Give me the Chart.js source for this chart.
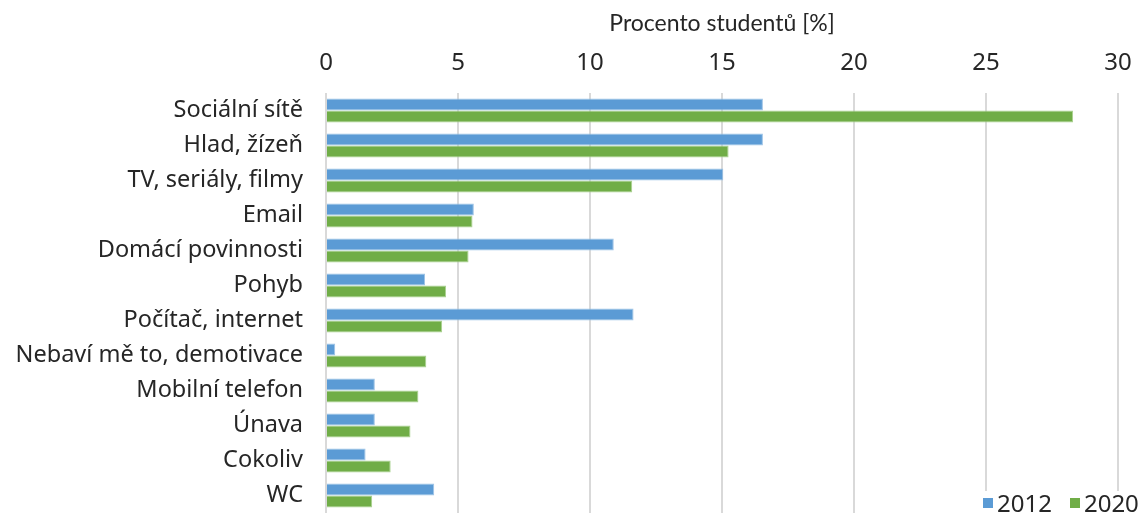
<!DOCTYPE html>
<html>
<head>
<meta charset="utf-8">
<script src="https://cdn.jsdelivr.net/npm/chart.js@4"></script>
<style>
    html, body { margin: 0; padding: 0; background: #fff; }
    #wrap { position: relative; width: 1148px; height: 515px; }
    #legend {
        position: absolute; left: 979px; top: 491px; height: 24px;
        background: #fff; font-family: 'Noto Sans', sans-serif; font-size: 24px;
        color: #262626; display: flex; align-items: center; line-height: 24px;
    }
    #legend span.box { display: inline-block; width: 10px; height: 10px; margin: 0 4px 0 4px; }
    #legend span.txt { margin-right: 14px; }
</style>
</head>
<body>
<div id="wrap">
    <canvas id="chart" width="1148" height="515"></canvas>
    <div id="legend"></div>
</div>
<script>
// categories, top to bottom
const categories = [
    'Sociální sítě', 'Hlad, žízeň', 'TV, seriály, filmy', 'Email',
    'Domácí povinnosti', 'Pohyb', 'Počítač, internet', 'Nebaví mě to, demotivace',
    'Mobilní telefon', 'Únava', 'Cokoliv', 'WC'
];
const values2012 = [16.55, 16.55, 15.05, 5.6, 10.9, 3.75, 11.65, 0.35, 1.85, 1.85, 1.5, 4.1];
const values2020 = [28.3, 15.25, 11.6, 5.55, 5.4, 4.55, 4.4, 3.8, 3.5, 3.2, 2.45, 1.75];
const seriesNames = ['2012', '2020'];
const xTicks = [0, 5, 10, 15, 20, 25, 30];

const colors = ['#5B9BD5', '#70AD47'];
const borders = ['#9DC3E6', '#A9D18E'];
const fontFamily = "'Noto Sans', sans-serif";
const textColor = '#262626';

const chart = new Chart(document.getElementById('chart').getContext('2d'), {
    type: 'bar',
    data: {
        labels: categories,
        datasets: [values2012, values2020].map((vals, i) => ({
            label: seriesNames[i],
            data: vals,
            backgroundColor: colors[i],
            borderColor: borders[i],
            borderWidth: 1,
            barPercentage: 1.0,
            categoryPercentage: 0.68
        }))
    },
    options: {
        indexAxis: 'y',
        responsive: false,
        animation: false,
        layout: { padding: { left: 0, right: 30, top: 0, bottom: 2 } },
        plugins: {
            legend: { display: false },
            tooltip: { enabled: false }
        },
        scales: {
            x: {
                position: 'top',
                min: xTicks[0],
                max: xTicks[xTicks.length - 1],
                afterBuildTicks: scale => {
                    scale.ticks = xTicks.map(v => ({ value: v }));
                },
                afterFit: scale => { scale.height = 93; },
                grid: { color: '#D9D9D9', lineWidth: 2, drawTicks: false },
                border: { display: false },
                ticks: {
                    padding: 15,
                    color: textColor,
                    font: { family: fontFamily, size: 24 }
                },
                title: {
                    display: true,
                    text: 'Procento studentů [%]',
                    color: textColor,
                    font: { family: 'Lato, sans-serif', size: 23 },
                    padding: { top: 10, bottom: 0 }
                }
            },
            y: {
                afterFit: scale => {
                    scale.width = 326;
                    // tick padding would otherwise shrink the plot at the bottom
                    scale.paddingTop = 0;
                    scale.paddingBottom = 0;
                },
                grid: { display: false, drawTicks: false },
                border: { display: false },
                ticks: {
                    padding: 23,
                    color: textColor,
                    font: { family: fontFamily, size: 23.5 }
                }
            }
        }
    }
});

// legend overlay, bottom right
const legend = document.getElementById('legend');
chart.data.datasets.forEach((ds, i) => {
    legend.innerHTML += `<span class="box" style="background:${colors[i]}"></span><span class="txt">${ds.label}</span>`;
});
</script>
</body>
</html>
